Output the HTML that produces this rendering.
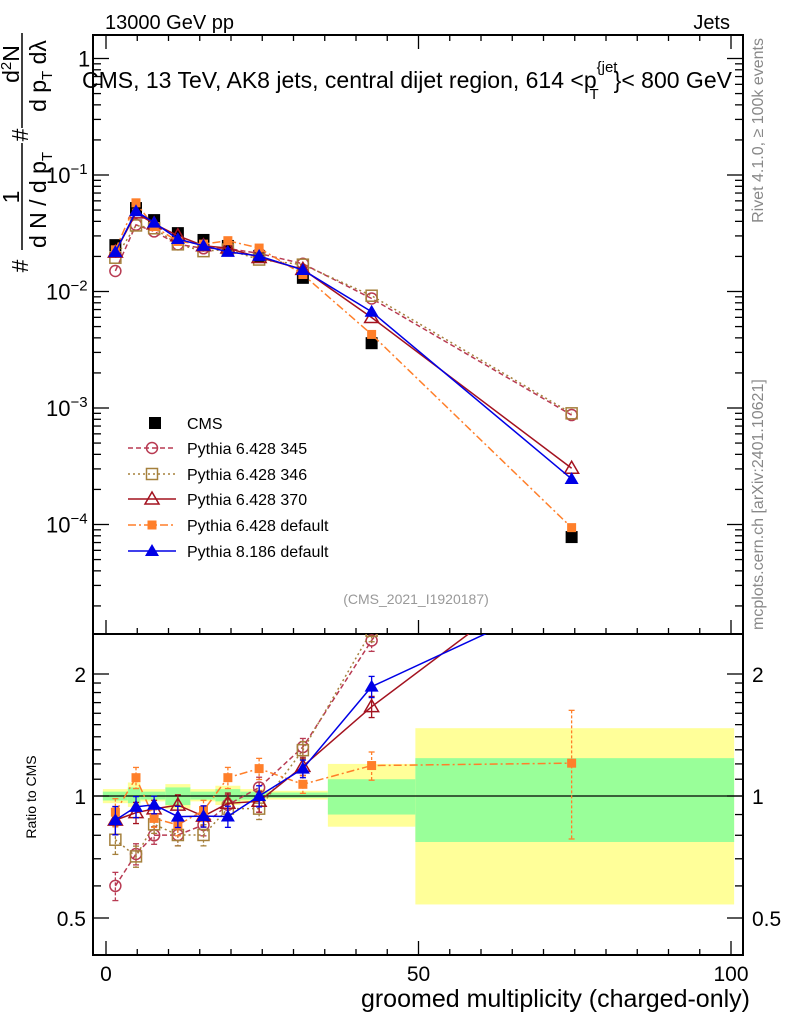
<!DOCTYPE html>
<html><head><meta charset="utf-8"><style>
body{margin:0;background:#fff;}
svg{display:block;font-family:"Liberation Sans",sans-serif;}
</style></head><body>
<svg id="chart" width="786" height="1024" viewBox="0 0 786 1024" xmlns="http://www.w3.org/2000/svg">
<defs>
<clipPath id="clipMain"><rect x="93" y="35" width="650" height="599"/></clipPath>
<clipPath id="clipRatio"><rect x="93" y="634" width="650" height="321"/></clipPath>
</defs>
<g id="bands" clip-path="url(#clipRatio)"></g>
<g id="axes"></g>
<g id="marks-main" clip-path="url(#clipMain)"></g>
<g id="marks-ratio" clip-path="url(#clipRatio)"></g>
<g id="legend"></g>
<text x="105" y="29" font-size="20">13000 GeV pp</text>
<text x="730" y="29" font-size="20" text-anchor="end">Jets</text>
<text x="82" y="88" font-size="23">CMS, 13 TeV, AK8 jets, central dijet region, 614 &lt;p<tspan font-size="15" dy="-16">{jet</tspan><tspan font-size="15" dx="-28" dy="27">T</tspan><tspan dy="-11" dx="15">}&lt; 800 GeV</tspan></text>
<text transform="translate(763,38) rotate(-90)" font-size="16" fill="#888" text-anchor="end">Rivet 4.1.0, ≥ 100k events</text>
<text transform="translate(763,630) rotate(-90)" font-size="16" fill="#888">mcplots.cern.ch [arXiv:2401.10621]</text>
<text x="416" y="604" font-size="14" fill="#999" text-anchor="middle">(CMS_2021_I1920187)</text>
<text x="750" y="1007" font-size="25" text-anchor="end">groomed multiplicity (charged-only)</text>
<text transform="translate(36,797) rotate(-90)" font-size="14" text-anchor="middle">Ratio to CMS</text>
<g font-size="23">
<line x1="22" y1="33" x2="22" y2="128" stroke="#000" stroke-width="1.5"/>
<line x1="22" y1="143" x2="22" y2="250" stroke="#000" stroke-width="1.5"/>
<text transform="translate(28,266) rotate(-90)" text-anchor="middle">#</text>
<text transform="translate(19,197) rotate(-90)" text-anchor="middle">1</text>
<text transform="translate(28,135) rotate(-90)" text-anchor="middle">#</text>
<text transform="translate(19,64) rotate(-90)" text-anchor="middle">d<tspan font-size="15" dy="-8">2</tspan><tspan dy="8">N</tspan></text>
<text transform="translate(46,200) rotate(-90)" text-anchor="middle">d N / d p<tspan font-size="15" dy="6">T</tspan></text>
<text transform="translate(46,76) rotate(-90)" text-anchor="middle">d p<tspan font-size="15" dy="6">T</tspan><tspan dy="-6"> dλ</tspan></text>
</g>
</svg>
<script>
const xs = [1.5,4.8,7.7,11.5,15.6,19.5,24.5,31.5,42.5,74.5];
const binEdges = [-0.5,3.5,5.5,9.5,13.5,17.5,21.5,25.5,35.5,49.5,100.5];
const cms = [0.025,0.052,0.041,0.0317,0.0277,0.0246,0.0202,0.0131,0.0036,7.8e-5];
const p345 = [0.015,0.0374,0.0328,0.0254,0.0235,0.0234,0.0212,0.0173,0.00871,8.7e-4];
const p346 = [0.0195,0.0369,0.0349,0.0254,0.0222,0.0229,0.0188,0.0170,0.0092,9.0e-4];
const p370 = [0.0218,0.0473,0.0381,0.0301,0.0247,0.0236,0.0196,0.0155,0.00598,3.04e-4];
const p6def = [0.0228,0.0577,0.0361,0.0269,0.0255,0.0273,0.0236,0.0140,0.00428,9.4e-5];
const p8def = [0.0218,0.0489,0.0390,0.0282,0.0247,0.0219,0.0202,0.0153,0.0067,2.46e-4];
const relErr = [0.08,0.06,0.05,0.06,0.06,0.06,0.06,0.05,0.06,0.06];
const p6RelErr = [0.08,0.06,0.05,0.06,0.06,0.06,0.06,0.05,0.08,0.35];
const yellowLo = [0.96,0.94,0.97,0.93,0.97,0.95,0.97,0.98,0.84,0.54];
const yellowHi = [1.04,1.08,1.04,1.07,1.04,1.06,1.04,1.03,1.2,1.47];
const greenLo = [0.975,0.96,0.98,0.95,0.98,0.97,0.98,0.99,0.9,0.77];
const greenHi = [1.025,1.05,1.025,1.05,1.025,1.04,1.025,1.02,1.1,1.24];
const mainTicks = ["1","10","10","10","10"];
const mainExp = ["","−1","−2","−3","−4"];
const xTickLabels = ["0","50","100"];
const ratioTickLabels = ["2","1","0.5"];

const NS="http://www.w3.org/2000/svg";
const X = v => 106 + v*6.25;
const YM = v => 175 - 116.5*(Math.log10(v)+1);
const YR = r => 796 - 122*Math.log2(r);
function mk(tag, attrs, parent){const e=document.createElementNS(NS,tag);for(const k in attrs)e.setAttribute(k,attrs[k]);parent.appendChild(e);return e;}

const axes=document.getElementById('axes');
const bands=document.getElementById('bands');
for(let i=0;i<binEdges.length-1;i++){
  const x1=X(binEdges[i]), x2=X(binEdges[i+1]);
  const r1=mk('rect',{x:x1,y:YR(yellowHi[i]),width:x2-x1,height:YR(yellowLo[i])-YR(yellowHi[i]),fill:'#ffff99'},bands);
  
  
  const r2=mk('rect',{x:x1,y:YR(greenHi[i]),width:x2-x1,height:YR(greenLo[i])-YR(greenHi[i]),fill:'#99ff99'},bands);
  
  
}
const f1=mk('rect',{x:93,y:35,width:650,height:599,fill:'none',stroke:'#000','stroke-width':2},axes);


const f2=mk('rect',{x:93,y:634,width:650,height:321,fill:'none',stroke:'#000','stroke-width':2},axes);


const one=mk('line',{x1:93,x2:743,y1:YR(1),y2:YR(1),stroke:'#000','stroke-width':1.3},axes);


for(let v=0;v<=100;v+=5){
  const big=v%50===0, len=big?14:6;
  for(const yb of [634,955]) mk('line',{x1:X(v),x2:X(v),y1:yb,y2:yb-len,stroke:'#000','stroke-width':1.3},axes);
  mk('line',{x1:X(v),x2:X(v),y1:35,y2:35+len,stroke:'#000','stroke-width':1.3},axes);
}
xTickLabels.forEach((t,i)=>{
  const e=mk('text',{x:X(i*50),y:981,'font-size':21,'text-anchor':'middle'},axes);e.textContent=t;
  
  
});
for(let d=0;d>=-5;d--){
  for(let m=1;m<10;m++){
    const v=m*Math.pow(10,d), y=YM(v);
    if(y<35||y>634) continue;
    const len=m===1?16:8;
    mk('line',{x1:93,x2:93+len,y1:y,y2:y,stroke:'#000','stroke-width':1.3},axes);
    mk('line',{x1:743,x2:743-len,y1:y,y2:y,stroke:'#000','stroke-width':1.3},axes);
  }
}
mainTicks.forEach((t,i)=>{
  const y=YM(Math.pow(10,-i));
  const e=mk('text',{x:i===0?78:46,y:y+8,'font-size':22},axes);
  e.textContent=t;
  if(mainExp[i]){const s=mk('tspan',{dy:-9,'font-size':15},e);s.textContent=mainExp[i];}
  
  
});
const rt=[0.5,0.6,0.7,0.8,0.9,1,1.1,1.2,1.3,1.4,1.5,1.6,1.7,1.8,1.9,2];
rt.forEach(r=>{const big=(r===0.5||r===1||r===2),len=big?16:8,y=YR(r);
  mk('line',{x1:93,x2:93+len,y1:y,y2:y,stroke:'#000','stroke-width':1.3},axes);
  mk('line',{x1:743,x2:743-len,y1:y,y2:y,stroke:'#000','stroke-width':1.3},axes);});
ratioTickLabels.forEach(t=>{
  const y=YR(parseFloat(t))+8;
  const a=mk('text',{x:86,y:y,'font-size':21,'text-anchor':'end'},axes);a.textContent=t;
  
  
  const b=mk('text',{x:752,y:y,'font-size':21},axes);b.textContent=t;
  
  
});

const series=[
 {name:'Pythia 6.428 345',vals:p345,err:relErr,color:'#b83a52',dash:'5,3',mk:'circle'},
 {name:'Pythia 6.428 346',vals:p346,err:relErr,color:'#a5803c',dash:'2,3',mk:'osquare'},
 {name:'Pythia 6.428 370',vals:p370,err:relErr,color:'#a3121f',dash:'',mk:'otri'},
 {name:'Pythia 6.428 default',vals:p6def,err:p6RelErr,color:'#ff7f2a',dash:'8,3,2,3',mk:'fsquare'},
 {name:'Pythia 8.186 default',vals:p8def,err:relErr,color:'#0000e6',dash:'',mk:'ftri'}
];
function marker(type,x,y,c,g){
  if(type==='circle') return mk('circle',{cx:x,cy:y,r:5.5,fill:'none',stroke:c,'stroke-width':1.5},g);
  if(type==='osquare') return mk('rect',{x:x-5.5,y:y-5.5,width:11,height:11,fill:'none',stroke:c,'stroke-width':1.5},g);
  if(type==='fsquare') return mk('rect',{x:x-4.5,y:y-4.5,width:9,height:9,fill:c},g);
  if(type==='cms') return mk('rect',{x:x-6,y:y-6,width:12,height:12,fill:'#000'},g);
  const p=`${x},${y-7} ${x-7},${y+5} ${x+7},${y+5}`;
  if(type==='otri') return mk('polygon',{points:p,fill:'none',stroke:c,'stroke-width':1.5},g);
  return mk('polygon',{points:p,fill:c},g);
}
const gm=document.getElementById('marks-main'), gr=document.getElementById('marks-ratio');
cms.forEach((v,i)=>{const m=marker('cms',X(xs[i]),YM(v),'#000',gm);
  
  });
series.forEach(s=>{
  const pm=xs.map((x,i)=>X(x)+','+YM(s.vals[i])).join(' ');
  const l=mk('polyline',{points:pm,fill:'none',stroke:s.color,'stroke-width':1.5,'stroke-dasharray':s.dash},gm);
  
  
  const rat=s.vals.map((v,i)=>v/cms[i]);
  const pr=xs.map((x,i)=>X(x)+','+YR(rat[i])).join(' ');
  const l2=mk('polyline',{points:pr,fill:'none',stroke:s.color,'stroke-width':1.5,'stroke-dasharray':s.dash},gr);
  
  
  xs.forEach((x,i)=>{
    const m=marker(s.mk,X(x),YM(s.vals[i]),s.color,gm);
    
    
    const r=rat[i], e=s.err[i];
    const px=X(x), ya=YR(r*(1+e)), yb=YR(r*(1-e));
    mk('line',{x1:px,x2:px,y1:ya,y2:yb,stroke:s.color,'stroke-width':1.3,'stroke-dasharray':s.dash?'3,2':''},gr);
    mk('line',{x1:px-3,x2:px+3,y1:ya,y2:ya,stroke:s.color,'stroke-width':1.3},gr);
    mk('line',{x1:px-3,x2:px+3,y1:yb,y2:yb,stroke:s.color,'stroke-width':1.3},gr);
    const m2=marker(s.mk,px,YR(r),s.color,gr);
    
    
  });
});
const lg=document.getElementById('legend');
const ly=[423,448,474,499,525,551];
const c0=marker('cms',155,ly[0],'#000',lg);


const t0=mk('text',{x:187,y:ly[0]+6,'font-size':16},lg);t0.textContent='CMS';


series.forEach((s,i)=>{
  const y=ly[i+1];
  mk('line',{x1:128,x2:176,y1:y,y2:y,stroke:s.color,'stroke-width':1.5,'stroke-dasharray':s.dash},lg);
  marker(s.mk,152,y,s.color,lg);
  const t=mk('text',{x:187,y:y+6,'font-size':16},lg);t.textContent=s.name;
  
  
});
</script>
</body></html>
